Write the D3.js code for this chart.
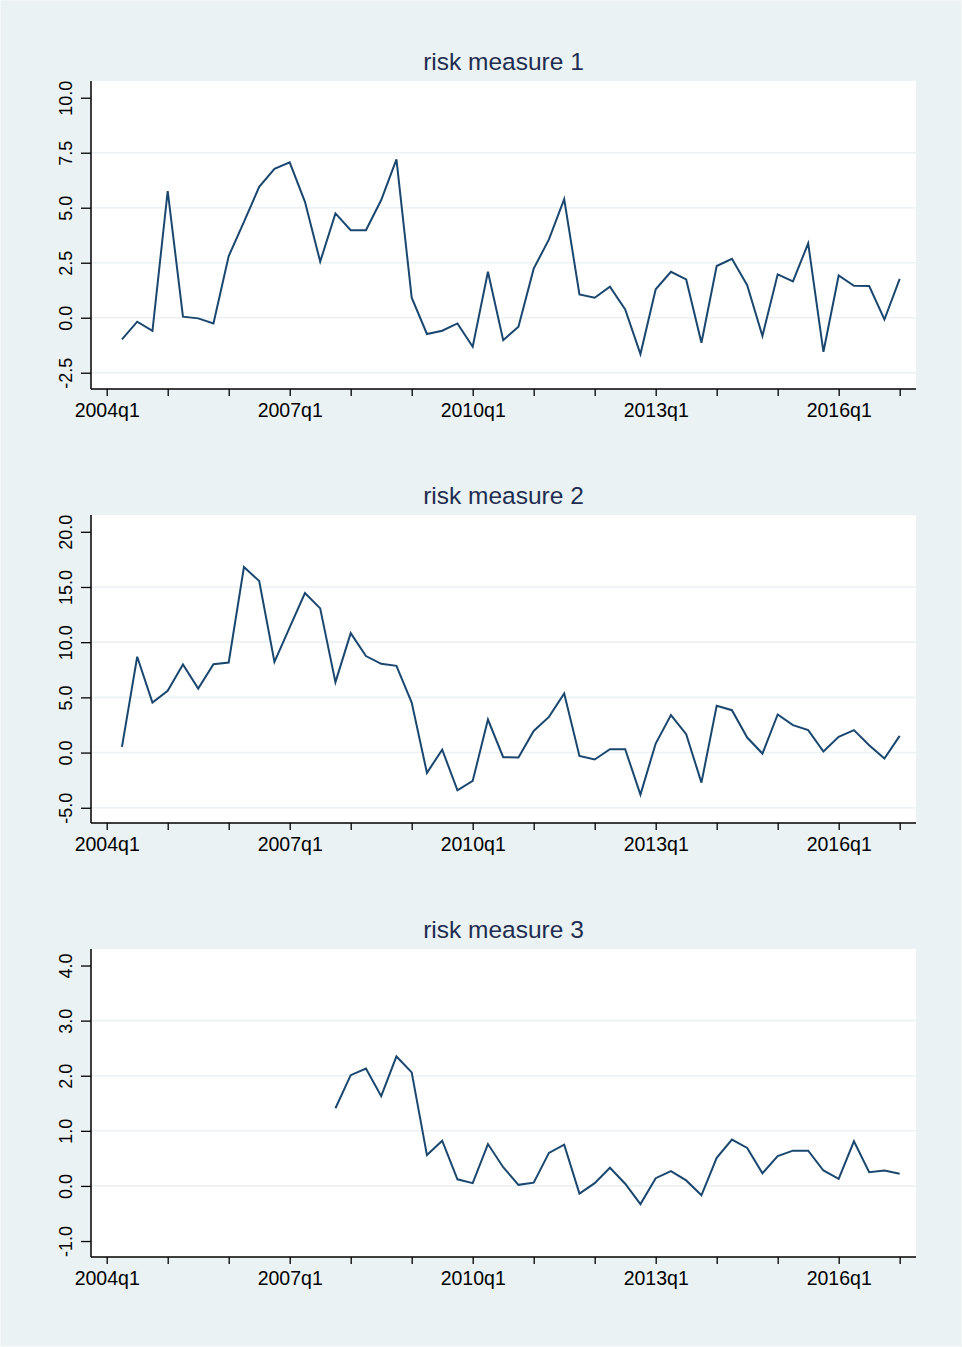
<!DOCTYPE html>
<html>
<head>
<meta charset="utf-8">
<script src="https://cdn.jsdelivr.net/npm/d3@7"></script>
<style>
  body { margin: 0; background: #eaf2f3; }
  svg { display: block; font-family: "Liberation Sans", Arial, Helvetica, sans-serif; }
</style>
</head>
<body>
<div id="chart"></div>
<script>
// quarters shown in every panel (2004q2 .. 2017q1)
const quarters = [
  "2004q2","2004q3","2004q4",
  "2005q1","2005q2","2005q3","2005q4",
  "2006q1","2006q2","2006q3","2006q4",
  "2007q1","2007q2","2007q3","2007q4",
  "2008q1","2008q2","2008q3","2008q4",
  "2009q1","2009q2","2009q3","2009q4",
  "2010q1","2010q2","2010q3","2010q4",
  "2011q1","2011q2","2011q3","2011q4",
  "2012q1","2012q2","2012q3","2012q4",
  "2013q1","2013q2","2013q3","2013q4",
  "2014q1","2014q2","2014q3","2014q4",
  "2015q1","2015q2","2015q3","2015q4",
  "2016q1","2016q2","2016q3","2016q4",
  "2017q1"
];

const risk1 = [
  -0.98, -0.18, -0.60,
  5.76, 0.05, -0.03, -0.26,
  2.80, 4.36, 5.95, 6.77,
  7.06, 5.27, 2.55, 4.74,
  3.98, 3.98, 5.35, 7.20,
  0.91, -0.74, -0.59, -0.26,
  -1.32, 2.09, -1.02, -0.41,
  2.23, 3.56, 5.39, 1.06,
  0.91, 1.41, 0.38, -1.65,
  1.29, 2.09, 1.74, -1.14,
  2.35, 2.68, 1.48, -0.83,
  1.97, 1.65, 3.38, -1.55,
  1.92, 1.45, 1.44, -0.08,
  1.77
];

const risk2 = [
  0.51, 8.68, 4.53,
  5.59, 7.98, 5.80, 8.01,
  8.16, 16.80, 15.54, 8.22,
  11.34, 14.45, 13.06, 6.38,
  10.82, 8.74, 8.04, 7.86,
  4.53, -1.84, 0.27, -3.42,
  -2.57, 2.99, -0.42, -0.45,
  1.96, 3.23, 5.35, -0.30,
  -0.63, 0.30, 0.30, -3.81,
  0.82, 3.39, 1.66, -2.72,
  4.23, 3.84, 1.36, -0.09,
  3.45, 2.48, 2.03, 0.09,
  1.42, 2.03, 0.67, -0.54,
  1.51
];

// measure 3 only starts in 2007q4
const risk3 = [
  null, null, null,
  null, null, null, null,
  null, null, null, null,
  null, null, null, 1.41,
  2.01, 2.13, 1.63, 2.35,
  2.06, 0.56, 0.82, 0.12,
  0.05, 0.76, 0.34, 0.02,
  0.06, 0.60, 0.75, -0.14,
  0.05, 0.33, 0.04, -0.33,
  0.14, 0.27, 0.10, -0.17,
  0.51, 0.84, 0.69, 0.23,
  0.54, 0.64, 0.64, 0.28,
  0.13, 0.81, 0.25, 0.28,
  0.22
];

const titles = ["risk measure 1", "risk measure 2", "risk measure 3"];

const yTicks1 = [-2.5, 0, 2.5, 5, 7.5, 10];
const yTicks2 = [-5, 0, 5, 10, 15, 20];
const yTicks3 = [-1, 0, 1, 2, 3, 4];

// gridlines drawn (Stata leaves some out)
const grid1 = [-2.5, 0, 2.5, 5, 7.5];
const grid2 = [-5, 0, 5, 10, 15];
const grid3 = [0, 1, 2, 3];

const yDomain1 = [-3.24, 10.76];
const yDomain2 = [-6.38, 21.52];
const yDomain3 = [-1.29, 4.30];

// yearly ticks, labels every third year
const xTicks = ["2004q1","2005q1","2006q1","2007q1","2008q1","2009q1","2010q1",
                "2011q1","2012q1","2013q1","2014q1","2015q1","2016q1","2017q1"];
const xLabels = ["2004q1","2007q1","2010q1","2013q1","2016q1"];

// "2004q1" -> running quarter number
const qnum = s => +s.slice(0, 4) * 4 + (+s.slice(5) - 1);

const W = 962, H = 1347;
const left = 91, right = 916;
const panelTop = [81, 515, 949];
const plotH = 308;
const navy = "#1a476f";
const gridColor = "#eaf2f3";

const svg = d3.select("#chart").append("svg")
    .attr("width", W)
    .attr("height", H);

svg.append("rect")
    .attr("x", 0.5).attr("y", 0.5)
    .attr("width", W - 1).attr("height", H - 1)
    .attr("fill", "#eaf2f3")
    .attr("stroke", "#f4f8f8");

const x = d3.scaleLinear()
    .domain([qnum("2004q1") - 1.03, qnum("2004q1") + 53.07])
    .range([left, right]);

const panels = [
    { title: titles[0], values: risk1, ticks: yTicks1, grid: grid1, domain: yDomain1 },
    { title: titles[1], values: risk2, ticks: yTicks2, grid: grid2, domain: yDomain2 },
    { title: titles[2], values: risk3, ticks: yTicks3, grid: grid3, domain: yDomain3 }
];

panels.forEach((p, i) => {
    const top = panelTop[i];
    const bottom = top + plotH;
    const y = d3.scaleLinear().domain(p.domain).range([bottom, top]);

    const g = svg.append("g");

    // plot region
    g.append("rect")
        .attr("x", left).attr("y", top)
        .attr("width", right - left).attr("height", plotH)
        .attr("fill", "#ffffff");

    // gridlines
    g.append("g").selectAll("line")
        .data(p.grid)
        .join("line")
        .attr("x1", left).attr("x2", right)
        .attr("y1", d => y(d)).attr("y2", d => y(d))
        .attr("stroke", gridColor)
        .attr("stroke-width", 1.6);

    // title
    g.append("text")
        .attr("x", (left + right) / 2)
        .attr("y", top - 11.5)
        .attr("text-anchor", "middle")
        .attr("fill", "#1f2d50")
        .style("font-size", "24.5px")
        .text(p.title);

    // y axis
    const yAxis = g.append("g")
        .attr("transform", `translate(${left},0)`)
        .call(d3.axisLeft(y)
            .tickValues(p.ticks)
            .tickSize(10)
            .tickFormat(d => d.toFixed(1)));
    yAxis.select(".domain").remove();
    yAxis.append("line")
        .attr("x1", 0).attr("x2", 0)
        .attr("y1", top).attr("y2", bottom)
        .attr("stroke", "#000").attr("stroke-width", 1.5);
    yAxis.selectAll(".tick line").attr("stroke", "#000").attr("stroke-width", 1.3);
    yAxis.selectAll(".tick text")
        .attr("transform", "rotate(-90)")
        .attr("x", 0)
        .attr("y", -19)
        .attr("dy", 0)
        .attr("text-anchor", "middle")
        .attr("fill", "#000")
        .style("font-size", "18px")
        .style("font-family", "'Liberation Sans', Arial, sans-serif");

    // x axis
    const xAxis = g.append("g")
        .attr("transform", `translate(0,${bottom})`)
        .call(d3.axisBottom(x)
            .tickValues(xTicks.map(qnum))
            .tickSize(7)
            .tickFormat(d => {
                const s = Math.floor(d / 4) + "q" + (d % 4 + 1);
                return xLabels.includes(s) ? s : "";
            }));
    xAxis.select(".domain").remove();
    xAxis.append("line")
        .attr("x1", left).attr("x2", right)
        .attr("y1", 0).attr("y2", 0)
        .attr("stroke", "#000").attr("stroke-width", 1.5);
    xAxis.selectAll(".tick line").attr("stroke", "#000").attr("stroke-width", 1.3);
    xAxis.selectAll(".tick text")
        .attr("y", 28)
        .attr("dy", 0)
        .attr("fill", "#000")
        .style("font-size", "19.5px")
        .style("font-family", "'Liberation Sans', Arial, sans-serif");

    // series line
    const line = d3.line()
        .defined(d => d.v !== null)
        .x(d => x(qnum(d.q)))
        .y(d => y(d.v));

    g.append("path")
        .datum(quarters.map((q, j) => ({ q: q, v: p.values[j] })))
        .attr("d", line)
        .attr("fill", "none")
        .attr("stroke", navy)
        .attr("stroke-width", 2)
        .attr("stroke-linejoin", "miter");
});
</script>
</body>
</html>
